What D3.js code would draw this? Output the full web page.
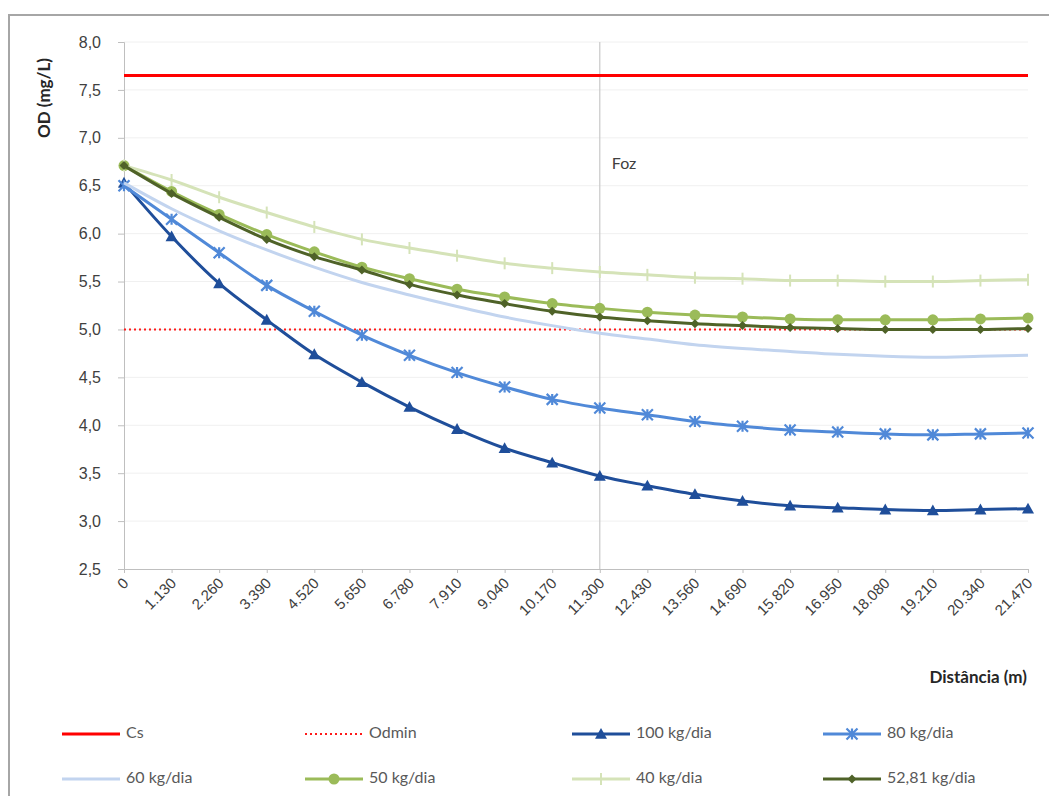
<!DOCTYPE html>
<html>
<head>
<meta charset="utf-8">
<script src="https://cdn.jsdelivr.net/npm/d3@7"></script>
<style>
  body { margin: 0; background: #fff; }
  svg { display: block; font-family: Lato, "Open Sans", sans-serif; }
</style>
</head>
<body>
<div id="chart"></div>
<script>
// distance categories (m)
const categories = ["0", "1.130", "2.260", "3.390", "4.520", "5.650", "6.780", "7.910", "9.040", "10.170",
    "11.300", "12.430", "13.560", "14.690", "15.820", "16.950", "18.080", "19.210", "20.340", "21.470"];

const yTicks = [2.5, 3.0, 3.5, 4.0, 4.5, 5.0, 5.5, 6.0, 6.5, 7.0, 7.5, 8.0];

const csValue = 7.65;
const odminValue = 5.0;
const fozCategory = "11.300";

const od100 = [6.53, 5.97, 5.48, 5.10, 4.74, 4.45, 4.19, 3.96, 3.76, 3.61, 3.47, 3.37, 3.28, 3.21, 3.16, 3.14, 3.12, 3.11, 3.12, 3.13];
const od80 = [6.50, 6.15, 5.80, 5.46, 5.19, 4.94, 4.73, 4.55, 4.40, 4.27, 4.18, 4.11, 4.04, 3.99, 3.95, 3.93, 3.91, 3.90, 3.91, 3.92];
const od60 = [6.53, 6.26, 6.03, 5.83, 5.65, 5.49, 5.36, 5.24, 5.13, 5.04, 4.96, 4.90, 4.84, 4.80, 4.77, 4.74, 4.72, 4.71, 4.72, 4.73];
const od50 = [6.71, 6.44, 6.20, 5.99, 5.81, 5.65, 5.53, 5.42, 5.34, 5.27, 5.22, 5.18, 5.15, 5.13, 5.11, 5.10, 5.10, 5.10, 5.11, 5.12];
const od40 = [6.71, 6.56, 6.38, 6.22, 6.07, 5.94, 5.85, 5.77, 5.69, 5.64, 5.60, 5.57, 5.54, 5.53, 5.51, 5.51, 5.50, 5.50, 5.51, 5.52];
const od5281 = [6.71, 6.42, 6.17, 5.94, 5.76, 5.62, 5.47, 5.36, 5.27, 5.19, 5.13, 5.09, 5.06, 5.04, 5.02, 5.01, 5.00, 5.00, 5.00, 5.01];

const series = [
    { name: "100 kg/dia", values: od100, color: "#1f4e9a", marker: "triangle" },
    { name: "80 kg/dia", values: od80, color: "#5089d8", marker: "star" },
    { name: "60 kg/dia", values: od60, color: "#c2d4ef", marker: "none" },
    { name: "50 kg/dia", values: od50, color: "#9bbb59", marker: "circle" },
    { name: "40 kg/dia", values: od40, color: "#d5e3b8", marker: "dash" },
    { name: "52,81 kg/dia", values: od5281, color: "#4f6228", marker: "diamond" }
];

const width = 1049, height = 796;
const plot = { left: 124, right: 1028, top: 42, bottom: 569 };
const textColor = "#404040";

const svg = d3.select("#chart").append("svg")
    .attr("width", width)
    .attr("height", height);

// outer frame (top and left edges visible)
svg.append("path")
    .attr("d", `M9,${height} L9,15 L${width},15`)
    .style("fill", "none")
    .style("stroke", "#a6a6a6")
    .style("stroke-width", 2);

const x = d3.scalePoint()
    .domain(categories)
    .range([plot.left, plot.right]);

const y = d3.scaleLinear()
    .domain([2.5, 8.0])
    .range([plot.bottom, plot.top]);

const fmt = v => d3.format(".1f")(v).replace(".", ",");

// faint gridlines
svg.append("g")
    .selectAll("line")
    .data(yTicks.slice(1))
    .enter().append("line")
    .attr("x1", plot.left)
    .attr("x2", plot.right)
    .attr("y1", d => y(d))
    .attr("y2", d => y(d))
    .style("stroke", "#f0f0f0")
    .style("stroke-width", 1);

// y axis
const yAxis = svg.append("g")
    .attr("transform", `translate(${plot.left},0)`)
    .call(d3.axisLeft(y).tickValues(yTicks).tickFormat(fmt).tickSize(6).tickPadding(17));
yAxis.select(".domain").style("stroke", "#bfbfbf");
yAxis.selectAll(".tick line").style("stroke", "#bfbfbf");
yAxis.selectAll("text")
    .style("font-size", "16px")
    .style("fill", textColor);

// x axis
const xAxis = svg.append("g")
    .attr("transform", `translate(0,${plot.bottom})`)
    .call(d3.axisBottom(x).tickSize(4).tickSizeOuter(0));
xAxis.select(".domain").style("stroke", "#bfbfbf");
xAxis.selectAll(".tick line").style("stroke", "#bfbfbf");
xAxis.selectAll("text")
    .attr("text-anchor", "end")
    .attr("dy", null)
    .attr("y", 0)
    .attr("transform", "translate(5,15) rotate(-45)")
    .style("font-size", "15px")
    .style("fill", textColor);

// Foz vertical marker
svg.append("line")
    .attr("x1", x(fozCategory))
    .attr("x2", x(fozCategory))
    .attr("y1", plot.top)
    .attr("y2", plot.bottom)
    .style("stroke", "#c8c8c8")
    .style("stroke-width", 1.2);

svg.append("text")
    .attr("x", x(fozCategory) + 12)
    .attr("y", 169)
    .style("font-size", "16px")
    .style("fill", textColor)
    .text("Foz");

// axis titles
svg.append("text")
    .attr("transform", "translate(50,98) rotate(-90)")
    .attr("text-anchor", "middle")
    .style("font-size", "17px")
    .style("font-weight", "bold")
    .style("fill", "#262626")
    .text("OD (mg/L)");

svg.append("text")
    .attr("x", 1027)
    .attr("y", 683)
    .attr("text-anchor", "end")
    .style("font-size", "17px")
    .style("font-weight", "bold")
    .style("fill", "#262626")
    .text("Distância (m)");

// Cs and Odmin reference lines
svg.append("line")
    .attr("x1", plot.left).attr("x2", plot.right)
    .attr("y1", y(csValue)).attr("y2", y(csValue))
    .style("stroke", "#ff0000")
    .style("stroke-width", 3);

svg.append("line")
    .attr("x1", plot.left).attr("x2", plot.right)
    .attr("y1", y(odminValue)).attr("y2", y(odminValue))
    .style("stroke", "#ff1a1a")
    .style("stroke-width", 2)
    .style("stroke-dasharray", "2,3");

function drawMarker(g, type, color, cx, cy, scale) {
    const s = scale || 1;
    if (type === "triangle") {
        const r = 6 * s;
        g.append("path")
            .attr("d", `M${cx},${cy - r} L${cx + r},${cy + r * 0.8} L${cx - r},${cy + r * 0.8} Z`)
            .style("fill", color);
    } else if (type === "star") {
        const r = 5.5 * s;
        g.append("path")
            .attr("d", `M${cx - r},${cy - r} L${cx + r},${cy + r} M${cx - r},${cy + r} L${cx + r},${cy - r} M${cx},${cy - r} L${cx},${cy + r}`)
            .style("stroke", color)
            .style("stroke-width", 2.2)
            .style("fill", "none");
    } else if (type === "circle") {
        g.append("circle")
            .attr("cx", cx).attr("cy", cy).attr("r", 5.5 * s)
            .style("fill", color);
    } else if (type === "diamond") {
        const r = 4.5 * s;
        g.append("path")
            .attr("d", `M${cx},${cy - r} L${cx + r},${cy} L${cx},${cy + r} L${cx - r},${cy} Z`)
            .style("fill", color);
    } else if (type === "dash") {
        g.append("line")
            .attr("x1", cx).attr("x2", cx)
            .attr("y1", cy - 6 * s).attr("y2", cy + 6 * s)
            .style("stroke", color)
            .style("stroke-width", 2);
    }
}

const line = d3.line()
    .x((d, i) => x(categories[i]))
    .y(d => y(d))
    .curve(d3.curveMonotoneX);

series.forEach(s => {
    const g = svg.append("g").attr("class", "series");
    g.append("path")
        .datum(s.values)
        .attr("d", line)
        .style("fill", "none")
        .style("stroke", s.color)
        .style("stroke-width", 3);
    s.values.forEach((v, i) => drawMarker(g, s.marker, s.color, x(categories[i]), y(v)));
});

// legend
const legendItems = [
    { name: "Cs", color: "#ff0000", marker: "none", dash: null, width: 3 },
    { name: "Odmin", color: "#ff1a1a", marker: "none", dash: "2,3", width: 2 },
    ...series.map(s => ({ name: s.name, color: s.color, marker: s.marker, dash: null, width: 3 }))
];
const legendCols = [62, 305, 572, 823];
const legendRows = [734, 779];

legendItems.forEach((d, i) => {
    const lx = legendCols[i % 4];
    const ly = legendRows[Math.floor(i / 4)];
    const g = svg.append("g").attr("class", "legend-item");
    g.append("line")
        .attr("x1", lx).attr("x2", lx + 58)
        .attr("y1", ly).attr("y2", ly)
        .style("stroke", d.color)
        .style("stroke-width", d.width)
        .style("stroke-dasharray", d.dash);
    drawMarker(g, d.marker, d.color, lx + 29, ly, 1);
    g.append("text")
        .attr("x", lx + 64)
        .attr("y", ly)
        .attr("dominant-baseline", "middle")
        .style("font-size", "16px")
        .style("fill", "#595959")
        .text(d.name);
});
</script>
</body>
</html>
